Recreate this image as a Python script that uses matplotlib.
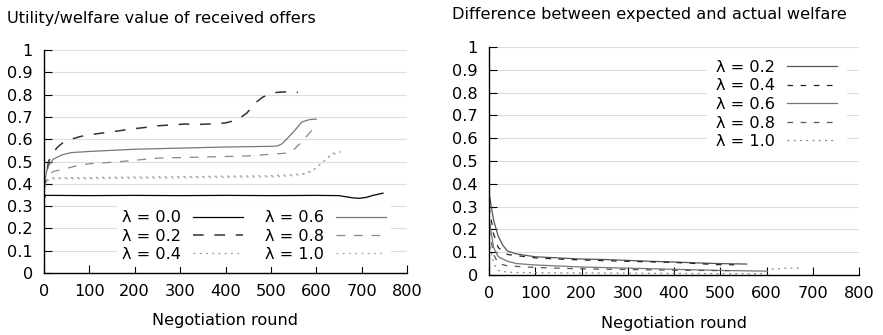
# Utility of received offers and expected-vs-actual welfare, per lambda

import numpy as np
from matplotlib import pyplot as plt

# Data (negotiation round, value)
# Left panel: utility/welfare of received offers
u00_x = [0, 3, 20, 100, 200, 300, 400, 500, 600, 650, 665, 680, 695, 710, 725, 747]
u00_y = [0.33, 0.348, 0.348, 0.347, 0.348, 0.347, 0.348, 0.347, 0.348, 0.347,
         0.342, 0.337, 0.335, 0.339, 0.348, 0.358]

u02_x = [0, 5, 10, 20, 30, 45, 60, 80, 100, 130, 160, 190, 220, 250, 280, 310,
         340, 370, 400, 425, 447, 465, 483, 500, 513, 530, 549, 560]
u02_y = [0.37, 0.44, 0.5, 0.54, 0.565, 0.59, 0.6, 0.612, 0.62, 0.628, 0.636, 0.645,
         0.652, 0.66, 0.664, 0.668, 0.666, 0.669, 0.673, 0.686, 0.717, 0.762,
         0.79, 0.803, 0.81, 0.812, 0.81, 0.81]

u04_x = [0, 3, 8, 20, 100, 200, 300, 400, 500, 540, 570, 593, 615, 637, 663]
u04_y = [0.36, 0.4, 0.42, 0.427, 0.428, 0.43, 0.432, 0.434, 0.436, 0.44, 0.445,
         0.46, 0.498, 0.537, 0.547]

u06_x = [0, 5, 10, 20, 40, 60, 100, 150, 200, 300, 400, 500, 515, 525, 537, 553,
         568, 585, 600]
u06_y = [0.38, 0.45, 0.48, 0.51, 0.53, 0.54, 0.545, 0.55, 0.555, 0.56, 0.565,
         0.568, 0.57, 0.58, 0.605, 0.64, 0.677, 0.688, 0.69]

u08_x = [0, 10, 20, 42, 70, 100, 160, 250, 350, 450, 531, 549, 564, 580, 590, 597]
u08_y = [0.38, 0.44, 0.455, 0.465, 0.48, 0.49, 0.498, 0.515, 0.52, 0.525, 0.537,
         0.55, 0.58, 0.615, 0.64, 0.65]

u10_x = [0, 3, 8, 20, 100, 200, 300, 400, 500, 540, 570, 590, 610, 630, 650]
u10_y = [0.36, 0.4, 0.415, 0.422, 0.423, 0.425, 0.427, 0.429, 0.431, 0.435,
         0.442, 0.455, 0.49, 0.525, 0.54]

# Right panel: difference between expected and actual welfare
d02_x = [0, 5, 10, 20, 30, 40, 60, 80, 100, 150, 200, 250, 300, 350, 400, 450,
         500, 557]
d02_y = [0.36, 0.3, 0.24, 0.17, 0.13, 0.105, 0.092, 0.086, 0.08, 0.075, 0.07,
         0.068, 0.064, 0.06, 0.057, 0.053, 0.05, 0.048]

d04_x = [0, 10, 20, 40, 60, 100, 150, 200, 300, 400, 450, 500, 530]
d04_y = [0.3, 0.18, 0.12, 0.09, 0.085, 0.075, 0.07, 0.066, 0.06, 0.055, 0.05,
         0.045, 0.045]

d06_x = [0, 10, 20, 40, 60, 100, 200, 300, 400, 500, 600]
d06_y = [0.25, 0.12, 0.08, 0.06, 0.05, 0.044, 0.035, 0.03, 0.025, 0.02, 0.017]

d08_x = [0, 10, 20, 40, 100, 200, 300, 400, 520]
d08_y = [0.2, 0.09, 0.05, 0.04, 0.033, 0.027, 0.024, 0.021, 0.019]

d10_x = [0, 10, 20, 40, 100, 300, 500, 590, 610, 640, 670]
d10_y = [0.15, 0.05, 0.02, 0.012, 0.01, 0.008, 0.006, 0.006, 0.025, 0.03, 0.03]

xticks = np.arange(0, 801, 100)
yticks = np.round(np.arange(0, 1.01, 0.1), 1)
ytick_labels = ["0"] + ["%.1f" % v for v in yticks[1:-1]] + ["1"]

# Styles
fs = 11.6
dashed = (0, (7, 7))
dotted = (0, (1.5, 3.5))
short_dash = (0, (4.5, 6))

W, H = 883, 335
fig = plt.figure(figsize=(W / 100, H / 100), dpi=100)


def setup(ax):
    ax.set_xlim(0, 800)
    ax.set_ylim(0, 1)
    ax.set_xticks(xticks)
    ax.set_yticks(yticks)
    ax.set_yticklabels(ytick_labels)
    ax.tick_params(direction="in", length=5.8, width=0.8, labelsize=fs, pad=8,
                   colors="black")
    for s in ["top", "right"]:
        ax.spines[s].set_visible(False)
    for s in ["left", "bottom"]:
        ax.spines[s].set_linewidth(1.0)
    ax.yaxis.grid(True, color="#dddddd", linewidth=0.8)
    ax.set_axisbelow(True)
    ax.set_facecolor("white")


# Left panel
ax1 = fig.add_axes([44 / W, 1 - 273 / H, 363 / W, 223 / H])
setup(ax1)
ax1.plot(u00_x, u00_y, color="black", lw=0.9, label="λ = 0.0")
ax1.plot(u02_x, u02_y, color="#333333", lw=1.1, ls=dashed, label="λ = 0.2")
ax1.plot(u04_x, u04_y, color="#999999", lw=0.9, ls=dotted, label="λ = 0.4")
ax1.plot(u06_x, u06_y, color="#777777", lw=0.9, label="λ = 0.6")
ax1.plot(u08_x, u08_y, color="#888888", lw=0.9, ls=dashed, label="λ = 0.8")
ax1.plot(u10_x, u10_y, color="#aaaaaa", lw=0.9, ls=dotted, label="λ = 1.0")
leg1 = ax1.legend(ncol=2, markerfirst=False, loc="center",
                  bbox_to_anchor=(0.578, 0.165), fontsize=fs,
                  handlelength=3.1, handletextpad=0.75, columnspacing=1.4,
                  labelspacing=0.2, borderpad=0.3, frameon=True,
                  fancybox=False, framealpha=1, edgecolor="none",
                  facecolor="white")
ax1.set_xlabel("Negotiation round", fontsize=fs, labelpad=10)
fig.text(7 / W, 1 - 18 / H, "Utility/welfare value of received offers",
         fontsize=fs, va="center", ha="left")

# Right panel
ax2 = fig.add_axes([489 / W, 1 - 275 / H, 370 / W, 228 / H])
setup(ax2)
ax2.plot(d02_x, d02_y, color="#555555", lw=0.9, label="λ = 0.2")
ax2.plot(d04_x, d04_y, color="#222222", lw=0.9, ls=short_dash, label="λ = 0.4")
ax2.plot(d06_x, d06_y, color="#777777", lw=0.9, label="λ = 0.6")
ax2.plot(d08_x, d08_y, color="#555555", lw=0.9, ls=short_dash, label="λ = 0.8")
ax2.plot(d10_x, d10_y, color="#888888", lw=0.9, ls=dotted, label="λ = 1.0")
leg2 = ax2.legend(loc="center", bbox_to_anchor=(0.778, 0.748), fontsize=fs,
                  markerfirst=False, handlelength=3.1, handletextpad=0.75,
                  labelspacing=0.22, borderpad=0.6, frameon=True,
                  fancybox=False, framealpha=1, edgecolor="none",
                  facecolor="white")
ax2.set_xlabel("Negotiation round", fontsize=fs, labelpad=11)
fig.text(452 / W, 1 - 15 / H, "Difference between expected and actual welfare",
         fontsize=fs, va="center", ha="left")

fig.savefig("out.png", dpi=100)
